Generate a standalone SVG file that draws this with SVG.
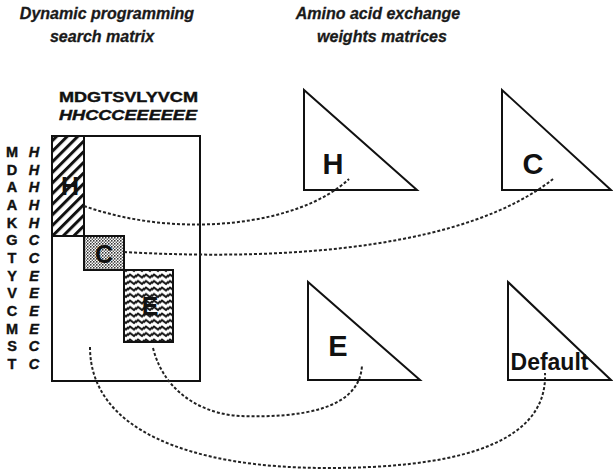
<svg xmlns="http://www.w3.org/2000/svg" width="613" height="473" viewBox="0 0 613 473">
  <style>
    .title { font-family: "Liberation Sans", Arial, sans-serif; font-weight: bold; font-style: italic; font-size: 16px; fill: #1a1a1a; stroke: #1a1a1a; stroke-width: 0.3; text-anchor: middle; }
    .seq { font-family: "Liberation Sans", Arial, sans-serif; font-weight: bold; font-size: 14.5px; fill: #111; stroke: #111; stroke-width: 0.4; }
    .ss { font-style: italic; }
    .row { text-anchor: middle; }
    .box { stroke: #111; stroke-width: 2; }
    .tri { fill: #fff; stroke: #111; stroke-width: 2; stroke-linejoin: miter; }
    .big { font-family: "Liberation Sans", Arial, sans-serif; font-weight: bold; fill: #111; text-anchor: middle; }
    .link { fill: none; stroke: #222; stroke-width: 2; stroke-dasharray: 3 2; }
  </style>
  <defs>
    <pattern id="hatch" patternUnits="userSpaceOnUse" width="7.5" height="7.5" patternTransform="rotate(45)">
      <rect width="7.5" height="7.5" fill="#fff"/>
      <line x1="1.5" y1="0" x2="1.5" y2="7.5" stroke="#111" stroke-width="3"/>
    </pattern>
    <pattern id="dots" patternUnits="userSpaceOnUse" width="3" height="3">
      <rect width="3" height="3" fill="#fff"/>
      <circle cx="0.8" cy="0.8" r="0.85" fill="#222"/>
      <circle cx="2.3" cy="2.3" r="0.7" fill="#333"/>
    </pattern>
    <pattern id="waves" patternUnits="userSpaceOnUse" width="8" height="6.5">
      <rect width="8" height="6.5" fill="#fff"/>
      <path d="M-1,4.5 L2,1.5 L6,4.5 L9,1.5" fill="none" stroke="#111" stroke-width="2"/>
    </pattern>
  </defs>

  <!-- headings -->
  <g id="headings">
    <text class="title" x="107" y="19">Dynamic programming</text>
    <text class="title" x="102" y="42">search matrix</text>
    <text class="title" x="378" y="19">Amino acid exchange</text>
    <text class="title" x="382" y="42">weights matrices</text>
  </g>

  <!-- dynamic programming matrix -->
  <g id="matrix">
    <text class="seq" x="59" y="102" textLength="139" lengthAdjust="spacingAndGlyphs">MDGTSVLYVCM</text>
    <text class="seq ss" x="59" y="120" textLength="138" lengthAdjust="spacingAndGlyphs">HHCCCEEEEEE</text>
    <g class="seq row">
      <text x="12" y="157">M</text><text x="12" y="174.7">D</text><text x="12" y="192.4">A</text>
      <text x="12" y="210">A</text><text x="12" y="227.7">K</text><text x="12" y="245.4">G</text>
      <text x="12" y="263">T</text><text x="12" y="280.7">Y</text><text x="12" y="298.4">V</text>
      <text x="12" y="316">C</text><text x="12" y="333.7">M</text><text x="12" y="351.4">S</text>
      <text x="12" y="369">T</text>
    </g>
    <g class="seq row ss">
      <text x="34" y="157">H</text><text x="34" y="174.7">H</text><text x="34" y="192.4">H</text>
      <text x="34" y="210">H</text><text x="34" y="227.7">H</text><text x="34" y="245.4">C</text>
      <text x="34" y="263">C</text><text x="34" y="280.7">E</text><text x="34" y="298.4">E</text>
      <text x="34" y="316">E</text><text x="34" y="333.7">E</text><text x="34" y="351.4">C</text>
      <text x="34" y="369">C</text>
    </g>
    <rect class="box" x="52" y="136" width="148" height="245" fill="#fff"/>
    <g id="block-H">
      <rect class="box" x="52" y="136" width="32" height="100" fill="url(#hatch)"/>
      <text class="big" x="70" y="195" font-size="25">H</text>
    </g>
    <g id="block-C">
      <rect class="box" x="84" y="236" width="40" height="34" fill="url(#dots)"/>
      <text class="big" x="104" y="263" font-size="25">C</text>
    </g>
    <g id="block-E">
      <rect class="box" x="124" y="270" width="49" height="72" fill="url(#waves)"/>
      <text class="big" x="150" y="315" font-size="25">E</text>
    </g>
  </g>

  <!-- exchange weight matrices -->
  <g id="tri-H">
    <polygon class="tri" points="304,90 304,190 417,190"/>
    <text class="big" x="333" y="174" font-size="29">H</text>
  </g>
  <g id="tri-C">
    <polygon class="tri" points="502,90 502,190 611,190"/>
    <text class="big" x="533" y="174" font-size="29">C</text>
  </g>
  <g id="tri-E">
    <polygon class="tri" points="308,282 308,380 420,380"/>
    <text class="big" x="338" y="356" font-size="29">E</text>
  </g>
  <g id="tri-Default">
    <polygon class="tri" points="508,282 508,380 611,380"/>
    <text class="big" x="549.5" y="370" font-size="23">Default</text>
  </g>

  <!-- links from matrix regions to weight matrices -->
  <g id="connectors">
    <path class="link" d="M84,206 C180,240 300,225 349,179"/>
    <path class="link" d="M124,252 C300,262 470,245 553,179"/>
    <path class="link" d="M153,348 C165,395 205,414 240,416 C300,418 360,410 362,365"/>
    <path class="link" d="M90,347 C90,430 190,468 327,468 C440,468 548,450 545,373"/>
  </g>
</svg>
